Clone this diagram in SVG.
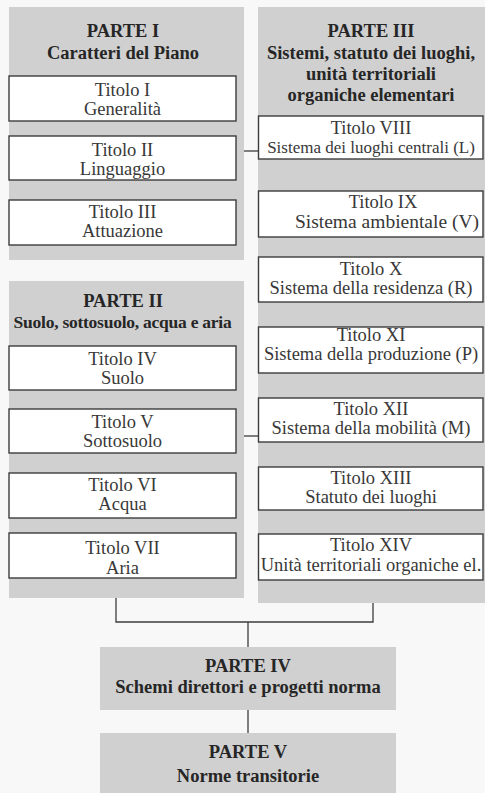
<svg xmlns="http://www.w3.org/2000/svg" width="485" height="793" viewBox="0 0 485 793">
<style>
.bg{fill:#f8f8f8}
.panel{fill:#d0d0d0}
.box{fill:#ffffff;stroke:#3c3c3c;stroke-width:1.4}
.edge{fill:none;stroke:#3c3c3c;stroke-width:1.4}
.h{font-family:"Liberation Serif","Times New Roman",serif;font-weight:bold;font-size:18.5px;fill:#262626;text-anchor:middle}
.t{font-family:"Liberation Serif","Times New Roman",serif;font-size:18.5px;fill:#383838;text-anchor:middle}
.conn{fill:none;stroke:#3c3c3c;stroke-width:1.3}
</style>
<rect class="bg" x="0" y="0" width="485" height="793"/>

<g id="connectors">
<line class="conn" x1="236" y1="151" x2="258" y2="151"/>
<line class="conn" x1="236" y1="436" x2="258" y2="436"/>
<polyline class="conn" points="116,598 116,622 373,622 373,603"/>
<line class="conn" x1="248" y1="622" x2="248" y2="647"/>
<line class="conn" x1="248" y1="710" x2="248" y2="733"/>
</g>

<g id="parte1">
<rect class="panel" x="9" y="7" width="235" height="253"/>
<text class="h" x="123" y="37">PARTE I</text>
<text class="h" x="123" y="59">Caratteri del Piano</text>
</g>
<g id="titolo1">
<rect class="box" x="9" y="76" width="227" height="45"/>
<text class="t" x="122.5" y="96">Titolo I</text>
<text class="t" x="122.5" y="115">Generalità</text>
</g>
<g id="titolo2">
<rect class="box" x="9" y="136" width="227" height="44"/>
<text class="t" x="122.5" y="156">Titolo II</text>
<text class="t" x="122.5" y="175">Linguaggio</text>
</g>
<g id="titolo3">
<rect class="box" x="9" y="200" width="227" height="45"/>
<text class="t" x="122.5" y="218">Titolo III</text>
<text class="t" x="122.5" y="237">Attuazione</text>
</g>

<g id="parte2">
<rect class="panel" x="9" y="281" width="235" height="317"/>
<text class="h" x="123" y="307">PARTE II</text>
<text class="h" x="122.5" y="328" style="font-size:17.5px;letter-spacing:-0.25px">Suolo, sottosuolo, acqua e aria</text>
</g>
<g id="titolo4">
<rect class="box" x="9" y="346" width="227" height="44"/>
<text class="t" x="122.5" y="365">Titolo IV</text>
<text class="t" x="122.5" y="384">Suolo</text>
</g>
<g id="titolo5">
<rect class="box" x="9" y="409" width="227" height="44"/>
<text class="t" x="122.5" y="428">Titolo V</text>
<text class="t" x="122.5" y="447">Sottosuolo</text>
</g>
<g id="titolo6">
<rect class="box" x="9" y="473" width="227" height="45"/>
<text class="t" x="122.5" y="491">Titolo VI</text>
<text class="t" x="122.5" y="510">Acqua</text>
</g>
<g id="titolo7">
<rect class="box" x="9" y="533" width="227" height="45"/>
<text class="t" x="122.5" y="554">Titolo VII</text>
<text class="t" x="122.5" y="574">Aria</text>
</g>

<g id="parte3">
<rect class="panel" x="258" y="7" width="227" height="596"/>
<text class="h" x="371" y="37">PARTE III</text>
<text class="h" x="371" y="59">Sistemi, statuto dei luoghi,</text>
<text class="h" x="371" y="80">unità territoriali</text>
<text class="h" x="371" y="101">organiche elementari</text>
</g>
<g id="titolo8">
<rect class="box" x="258.5" y="116" width="224.5" height="43"/>
<text class="t" x="371" y="134">Titolo VIII</text>
<text class="t" x="371" y="153" style="font-size:17px">Sistema dei luoghi centrali (L)</text>
</g>
<g id="titolo9">
<rect class="box" x="258.5" y="191" width="224.5" height="46"/>
<text class="t" x="383" y="208">Titolo IX</text>
<text class="t" x="387" y="228" style="font-size:19.5px">Sistema ambientale (V)</text>
</g>
<g id="titolo10">
<rect class="box" x="258.5" y="257" width="224.5" height="45"/>
<text class="t" x="371" y="275">Titolo X</text>
<text class="t" x="371" y="294">Sistema della residenza (R)</text>
</g>
<g id="titolo11">
<rect x="258.5" y="327" width="224.5" height="46" fill="#ffffff"/>
<text class="t" x="371" y="341">Titolo XI</text>
<text class="t" x="371" y="360">Sistema della produzione (P)</text>
<rect class="panel" x="258" y="320" width="227" height="6.5"/>
<rect class="edge" x="258.5" y="327" width="224.5" height="46"/>
</g>
<g id="titolo12">
<rect class="box" x="258.5" y="398" width="224.5" height="44"/>
<text class="t" x="371" y="415">Titolo XII</text>
<text class="t" x="371" y="434">Sistema della mobilità (M)</text>
</g>
<g id="titolo13">
<rect class="box" x="258.5" y="467" width="224.5" height="43"/>
<text class="t" x="371" y="484">Titolo XIII</text>
<text class="t" x="371" y="503">Statuto dei luoghi</text>
</g>
<g id="titolo14">
<rect class="box" x="258.5" y="534" width="224.5" height="46"/>
<text class="t" x="371" y="551">Titolo XIV</text>
<text class="t" x="371" y="571">Unità territoriali organiche el.</text>
</g>

<g id="parte4">
<rect class="panel" x="100" y="647" width="296" height="63"/>
<text class="h" x="248" y="672">PARTE IV</text>
<text class="h" x="248" y="693">Schemi direttori e progetti norma</text>
</g>
<g id="parte5">
<rect class="panel" x="100" y="733" width="296" height="60"/>
<text class="h" x="248" y="758">PARTE V</text>
<text class="h" x="248" y="782">Norme transitorie</text>
</g>
</svg>
